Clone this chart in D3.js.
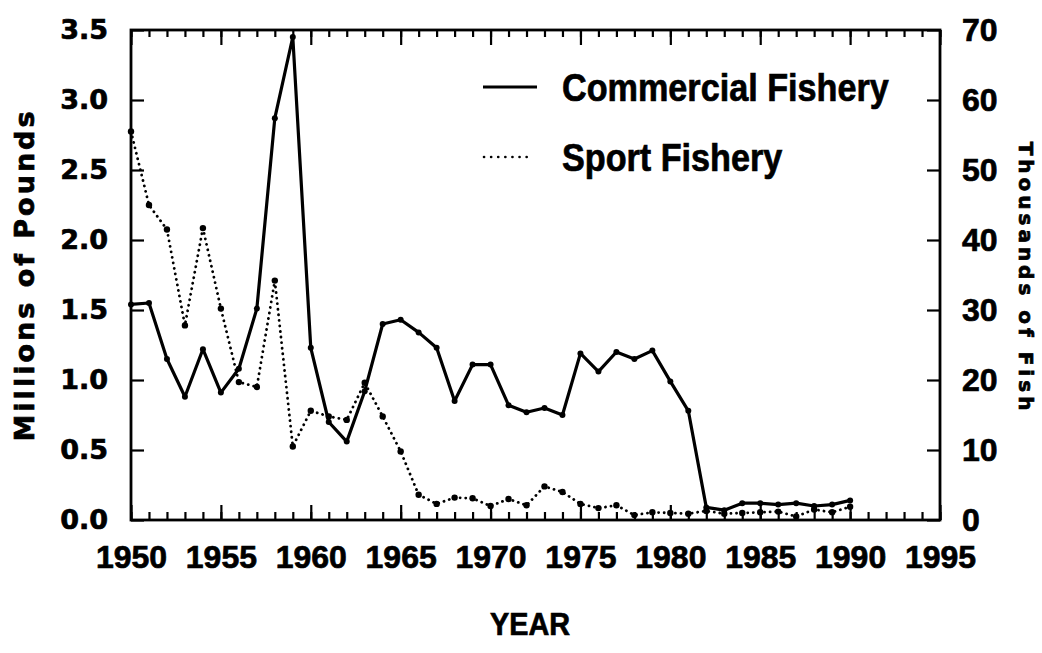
<!DOCTYPE html>
<html>
<head>
<meta charset="utf-8">
<script src="https://cdn.jsdelivr.net/npm/d3@7"></script>
<style>
  body { margin: 0; background: #fff; }
  svg { display: block; }
  text { fill: #000; stroke: #000; stroke-width: 0.7px; }
  .tick text { font-family: "Liberation Sans", Arial, sans-serif; font-weight: bold; }
</style>
</head>
<body>
<div class="chart"></div>
<script>
var years = d3.range(1950, 1991);
// millions of pounds (left axis)
var commercial = [1.54, 1.55, 1.15, 0.88, 1.22, 0.91, 1.08, 1.51, 2.87, 3.45,
                  1.23, 0.70, 0.56, 0.92, 1.40, 1.43, 1.34, 1.23, 0.85, 1.11,
                  1.11, 0.82, 0.77, 0.80, 0.75, 1.19, 1.06, 1.20, 1.15, 1.21,
                  0.99, 0.78, 0.09, 0.07, 0.12, 0.12, 0.11, 0.12, 0.10, 0.11, 0.14];
// thousands of fish (right axis)
var sport = [55.5, 45.0, 41.5, 27.8, 41.7, 30.2, 19.7, 19.0, 34.2, 10.5,
             15.6, 14.8, 14.3, 19.6, 14.8, 9.8, 3.6, 2.3, 3.2, 3.1,
             2.0, 3.0, 2.1, 4.8, 4.0, 2.3, 1.7, 2.1, 0.7, 1.1,
             1.0, 0.9, 1.3, 0.9, 1.0, 1.1, 1.2, 0.5, 1.5, 1.1, 1.9];
var xTicks = d3.range(1950, 1996, 5);
var leftTicks = [0, 0.5, 1, 1.5, 2, 2.5, 3, 3.5];
var rightTicks = [0, 10, 20, 30, 40, 50, 60, 70];

var width = 1042, height = 653;
var pl = 131, pr = 940, pt = 30, pb = 520;

var svg = d3.select('.chart').append('svg').attr('width', width).attr('height', height);

var x = d3.scaleLinear().domain([1950, 1995]).range([pl, pr]);
var yL = d3.scaleLinear().domain([0, 3.5]).range([pb, pt]);
var yR = d3.scaleLinear().domain([0, 70]).range([pb, pt]);

// minor year ticks, bottom and top
svg.append('g').attr('transform', 'translate(0,' + pb + ')')
  .call(d3.axisBottom(x).tickValues(d3.range(1950, 1996)).tickSize(-8).tickFormat(''));
svg.append('g').attr('transform', 'translate(0,' + pt + ')')
  .call(d3.axisTop(x).tickValues(d3.range(1950, 1996)).tickSize(-7).tickFormat(''));
// major ticks
svg.append('g').attr('class', 'xmaj').attr('transform', 'translate(0,' + pb + ')')
  .call(d3.axisBottom(x).tickValues(xTicks).tickSize(-15).tickPadding(25).tickFormat(d3.format('d')));
svg.append('g').attr('transform', 'translate(0,' + pt + ')')
  .call(d3.axisTop(x).tickValues(xTicks).tickSize(-15).tickFormat(''));
svg.append('g').attr('class', 'yl').attr('transform', 'translate(' + pl + ',0)')
  .call(d3.axisLeft(yL).tickValues(leftTicks).tickSize(-13).tickPadding(23).tickFormat(d3.format('.1f')));
svg.append('g').attr('class', 'yr').attr('transform', 'translate(' + pr + ',0)')
  .call(d3.axisRight(yR).tickValues(rightTicks).tickSize(-13).tickPadding(22));

svg.selectAll('.domain').remove();
svg.selectAll('.tick line').attr('stroke', '#000').attr('stroke-width', 2.2);
svg.selectAll('.xmaj text').style('font-size', '32px');
svg.selectAll('.yr text').style('font-size', '32px');
svg.selectAll('.yl text').style('font-family', '"DejaVu Sans", sans-serif').style('font-size', '27px');

svg.append('rect').attr('x', pl).attr('y', pt).attr('width', pr - pl).attr('height', pb - pt)
  .attr('fill', 'none').attr('stroke', '#000').attr('stroke-width', 2.8);

// commercial fishery
var lineC = d3.line().x(function(d, i) { return x(years[i]); }).y(function(d) { return yL(d); });
svg.append('path').datum(commercial).attr('d', lineC)
  .attr('fill', 'none').attr('stroke', '#000').attr('stroke-width', 3.2).attr('stroke-linejoin', 'round');
svg.selectAll('.cdot').data(commercial).enter().append('circle')
  .attr('cx', function(d, i) { return x(years[i]); }).attr('cy', function(d) { return yL(d); })
  .attr('r', 3).attr('fill', '#000');

// sport fishery
var lineS = d3.line().x(function(d, i) { return x(years[i]); }).y(function(d) { return yR(d); });
svg.append('path').datum(sport).attr('d', lineS)
  .attr('fill', 'none').attr('stroke', '#000').attr('stroke-width', 2.8)
  .attr('stroke-linecap', 'round').attr('stroke-dasharray', '0.1 5.5');
svg.selectAll('.sdot').data(sport).enter().append('circle')
  .attr('cx', function(d, i) { return x(years[i]); }).attr('cy', function(d) { return yR(d); })
  .attr('r', 3.2).attr('fill', '#000');

// legend
svg.append('line').attr('x1', 483).attr('x2', 537).attr('y1', 87).attr('y2', 87)
  .attr('stroke', '#000').attr('stroke-width', 3);
svg.append('line').attr('x1', 484).attr('x2', 532).attr('y1', 157).attr('y2', 157)
  .attr('stroke', '#000').attr('stroke-width', 2.6).attr('stroke-linecap', 'round').attr('stroke-dasharray', '0.1 7');
svg.append('text').attr('transform', 'translate(562,101) scale(0.9,1)')
  .style('font-family', '"Liberation Sans", Arial, sans-serif').style('font-weight', 'bold').style('font-size', '38px')
  .text('Commercial Fishery');
svg.append('text').attr('transform', 'translate(562,171) scale(0.9,1)')
  .style('font-family', '"Liberation Sans", Arial, sans-serif').style('font-weight', 'bold').style('font-size', '38px')
  .text('Sport Fishery');

// axis titles
svg.append('text').attr('transform', 'translate(34,275) rotate(-90)').attr('text-anchor', 'middle')
  .style('font-family', '"DejaVu Sans", sans-serif').style('font-weight', 'bold').style('font-size', '27px')
  .style('letter-spacing', '3px').text('Millions of Pounds');
svg.append('text').attr('transform', 'translate(1019,278) rotate(90)').attr('text-anchor', 'middle')
  .style('font-family', '"DejaVu Sans", sans-serif').style('font-weight', 'bold').style('font-size', '20px')
  .style('letter-spacing', '4px').text('Thousands of Fish');
svg.append('text').attr('x', 530).attr('y', 635).attr('text-anchor', 'middle')
  .style('font-family', '"Liberation Sans", Arial, sans-serif').style('font-weight', 'bold').style('font-size', '32px')
  .attr('transform', 'translate(53,0) scale(0.9,1)')
  .text('YEAR');
</script>
</body>
</html>
